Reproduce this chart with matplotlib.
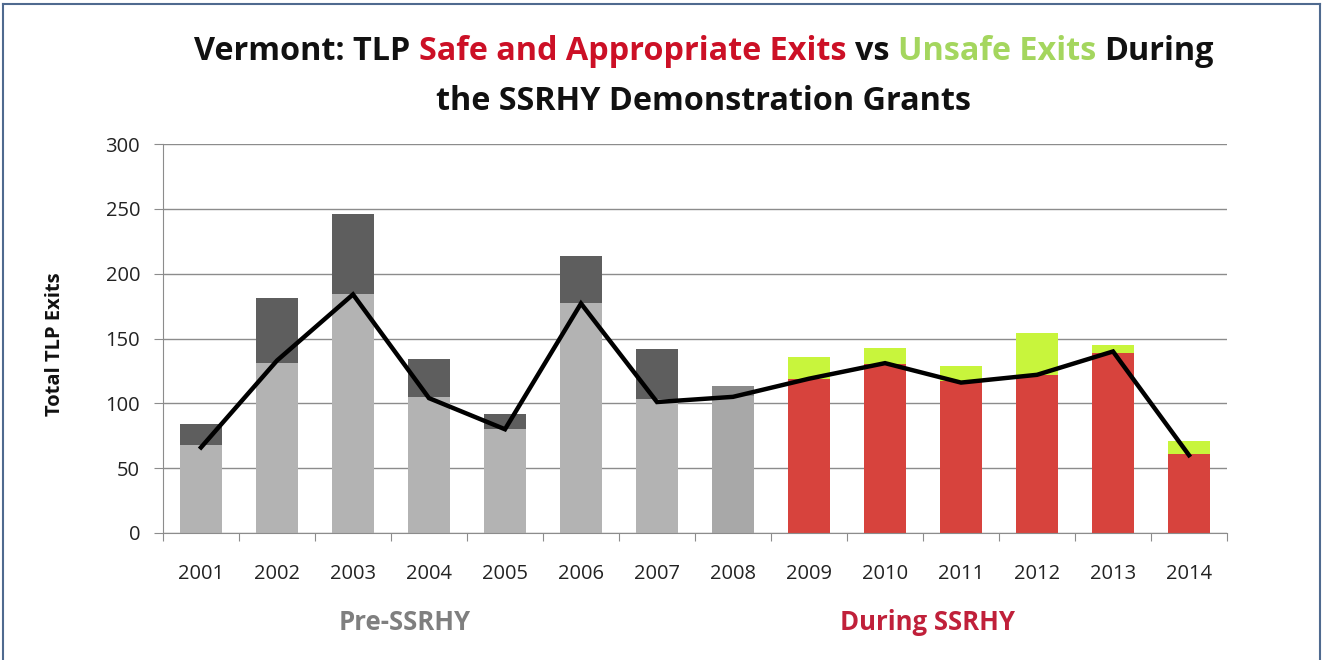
import matplotlib
matplotlib.use('Agg')
import matplotlib.pyplot as plt
import numpy as np
from matplotlib import font_manager
from matplotlib.lines import Line2D

# ---------------- data ----------------
years = [str(y) for y in range(2001, 2015)]
pre_safe = [68, 131, 184, 105, 80, 177, 103, 106]
pre_unsafe = [16, 50, 62, 29, 12, 37, 39, 7]
during_safe = [119, 130, 117, 122, 139, 61]
during_unsafe = [17, 13, 12, 32, 6, 10]
line_vals = [66, 133, 184, 104, 80, 177, 101, 105, 119, 131, 116, 122, 140, 60]
yticks = [0, 50, 100, 150, 200, 250, 300]

title1 = [("Vermont: TLP ", "#111111"), ("Safe and Appropriate Exits", "#cc1026"),
          (" vs ", "#111111"), ("Unsafe Exits", "#a4d65e"), (" During", "#111111")]
title2 = [("the SSRHY Demonstration Grants", "#111111")]


def pick_font(cands):
    for c in cands:
        try:
            font_manager.findfont(font_manager.FontProperties(family=c), fallback_to_default=False)
            return c
        except Exception:
            continue
    return 'DejaVu Sans'


FONT = pick_font(['Liberation Sans Narrow', 'Open Sans', 'Liberation Sans'])
plt.rcParams['font.family'] = [FONT, 'DejaVu Sans']

W, H = 1323, 660
fig = plt.figure(figsize=(W / 100, H / 100), dpi=100)
fig.patch.set_facecolor('white')
ax = fig.add_axes([163 / W, 1 - 533 / H, (1227 - 163) / W, (533 - 144) / H])

x = np.arange(len(years))
n_pre = len(pre_safe)
xp = x[:n_pre]
xd = x[n_pre:]
bw = 0.55

pre_light = ['#b3b3b3'] * (n_pre - 1) + ['#a8a8a8']
pre_dark = ['#5e5e5e'] * (n_pre - 1) + ['#8a8a8a']
ax.bar(xp, pre_safe, bw, color=pre_light, zorder=2)
ax.bar(xp, pre_unsafe, bw, bottom=pre_safe, color=pre_dark, zorder=2)
ax.bar(xd, during_safe, bw, color='#d7433d', zorder=2)
ax.bar(xd, during_unsafe, bw, bottom=during_safe, color='#c8f53c', zorder=2)
ax.plot(x, line_vals, color='black', lw=3.2, zorder=3, solid_joinstyle='miter')

ax.set_xlim(-0.5, len(years) - 0.5)
ax.set_ylim(0, 300)
ax.set_yticks(yticks)
ax.set_yticklabels([str(v) for v in yticks], fontsize=14.5, color='#222222')
ax.yaxis.grid(True, color='#8c8c8c', lw=1.0, zorder=0)
ax.set_axisbelow(True)
for s in ['top', 'right']:
    ax.spines[s].set_visible(False)
ax.spines['left'].set_color('#8c8c8c')
ax.spines['bottom'].set_color('#8c8c8c')
ax.tick_params(axis='y', length=6.5, color='#8c8c8c', pad=10, direction='out')

# x ticks at boundaries, labels at centers
ax.set_xticks(np.arange(-0.5, len(years), 1.0))
ax.set_xticklabels([])
ax.tick_params(axis='x', which='major', length=6, color='#8c8c8c', direction='out')
ax.set_xticks(x, minor=True)
ax.set_xticklabels(years, minor=True, fontsize=14.5, color='#222222')
ax.tick_params(axis='x', which='minor', length=0, pad=22)

fig.text(55 / W, 1 - 344 / H, "Total TLP Exits", fontsize=14.5, fontweight='bold',
         rotation=90, ha='center', va='center', color='#111111')

fig.text(405 / W, 1 - 622 / H, "Pre-SSRHY", fontsize=18.5, fontweight='bold',
         color='#7f7f7f', ha='center', va='center')
fig.text(928 / W, 1 - 622 / H, "During SSRHY", fontsize=18.5, fontweight='bold',
         color='#c0203a', ha='center', va='center')

# frame
fig.add_artist(Line2D([3 / W, 3 / W], [0, 1 - 4 / H], transform=fig.transFigure, color='#4f6a8f', lw=1.5))
fig.add_artist(Line2D([3 / W, 1 - 3 / W], [1 - 4 / H, 1 - 4 / H], transform=fig.transFigure, color='#4f6a8f', lw=1.5))
fig.add_artist(Line2D([1 - 3 / W, 1 - 3 / W], [0, 1 - 4 / H], transform=fig.transFigure, color='#4f6a8f', lw=1.5))

# title with colored segments
fig.canvas.draw()
renderer = fig.canvas.get_renderer()


def seg_line(segs, ycen, size):
    texts = []
    for s, c in segs:
        t = fig.text(0, ycen, s.strip(), color=c, fontsize=size, fontweight='bold', ha='left', va='center')
        texts.append(t)
    sp = fig.text(0, 0, "x x", fontsize=size, fontweight='bold')
    sp2 = fig.text(0, 0, "xx", fontsize=size, fontweight='bold')
    space = sp.get_window_extent(renderer).width - sp2.get_window_extent(renderer).width
    sp.remove(); sp2.remove()
    widths = [t.get_window_extent(renderer).width for t in texts]
    gaps = []
    for i, (s, c) in enumerate(segs):
        g = 0
        if i > 0 and (s.startswith(' ') or segs[i - 1][0].endswith(' ')):
            g = space
        gaps.append(g)
    total = sum(widths) + sum(gaps)
    return texts, widths, gaps, total


size = 22
texts, widths, gaps, total = seg_line(title1, 1 - 52 / H, size)
for t in texts:
    t.remove()
size = size * 1018 / total
texts, widths, gaps, total = seg_line(title1, 1 - 52 / H, size)
xx = 704 - total / 2
for t, w, g in zip(texts, widths, gaps):
    xx += g
    t.set_x(xx / W)
    xx += w
fig.text(704 / W, 1 - 101 / H, title2[0][0], color=title2[0][1], fontsize=size,
         fontweight='bold', ha='center', va='center')

fig.savefig('out.png', dpi=100, facecolor='white')
